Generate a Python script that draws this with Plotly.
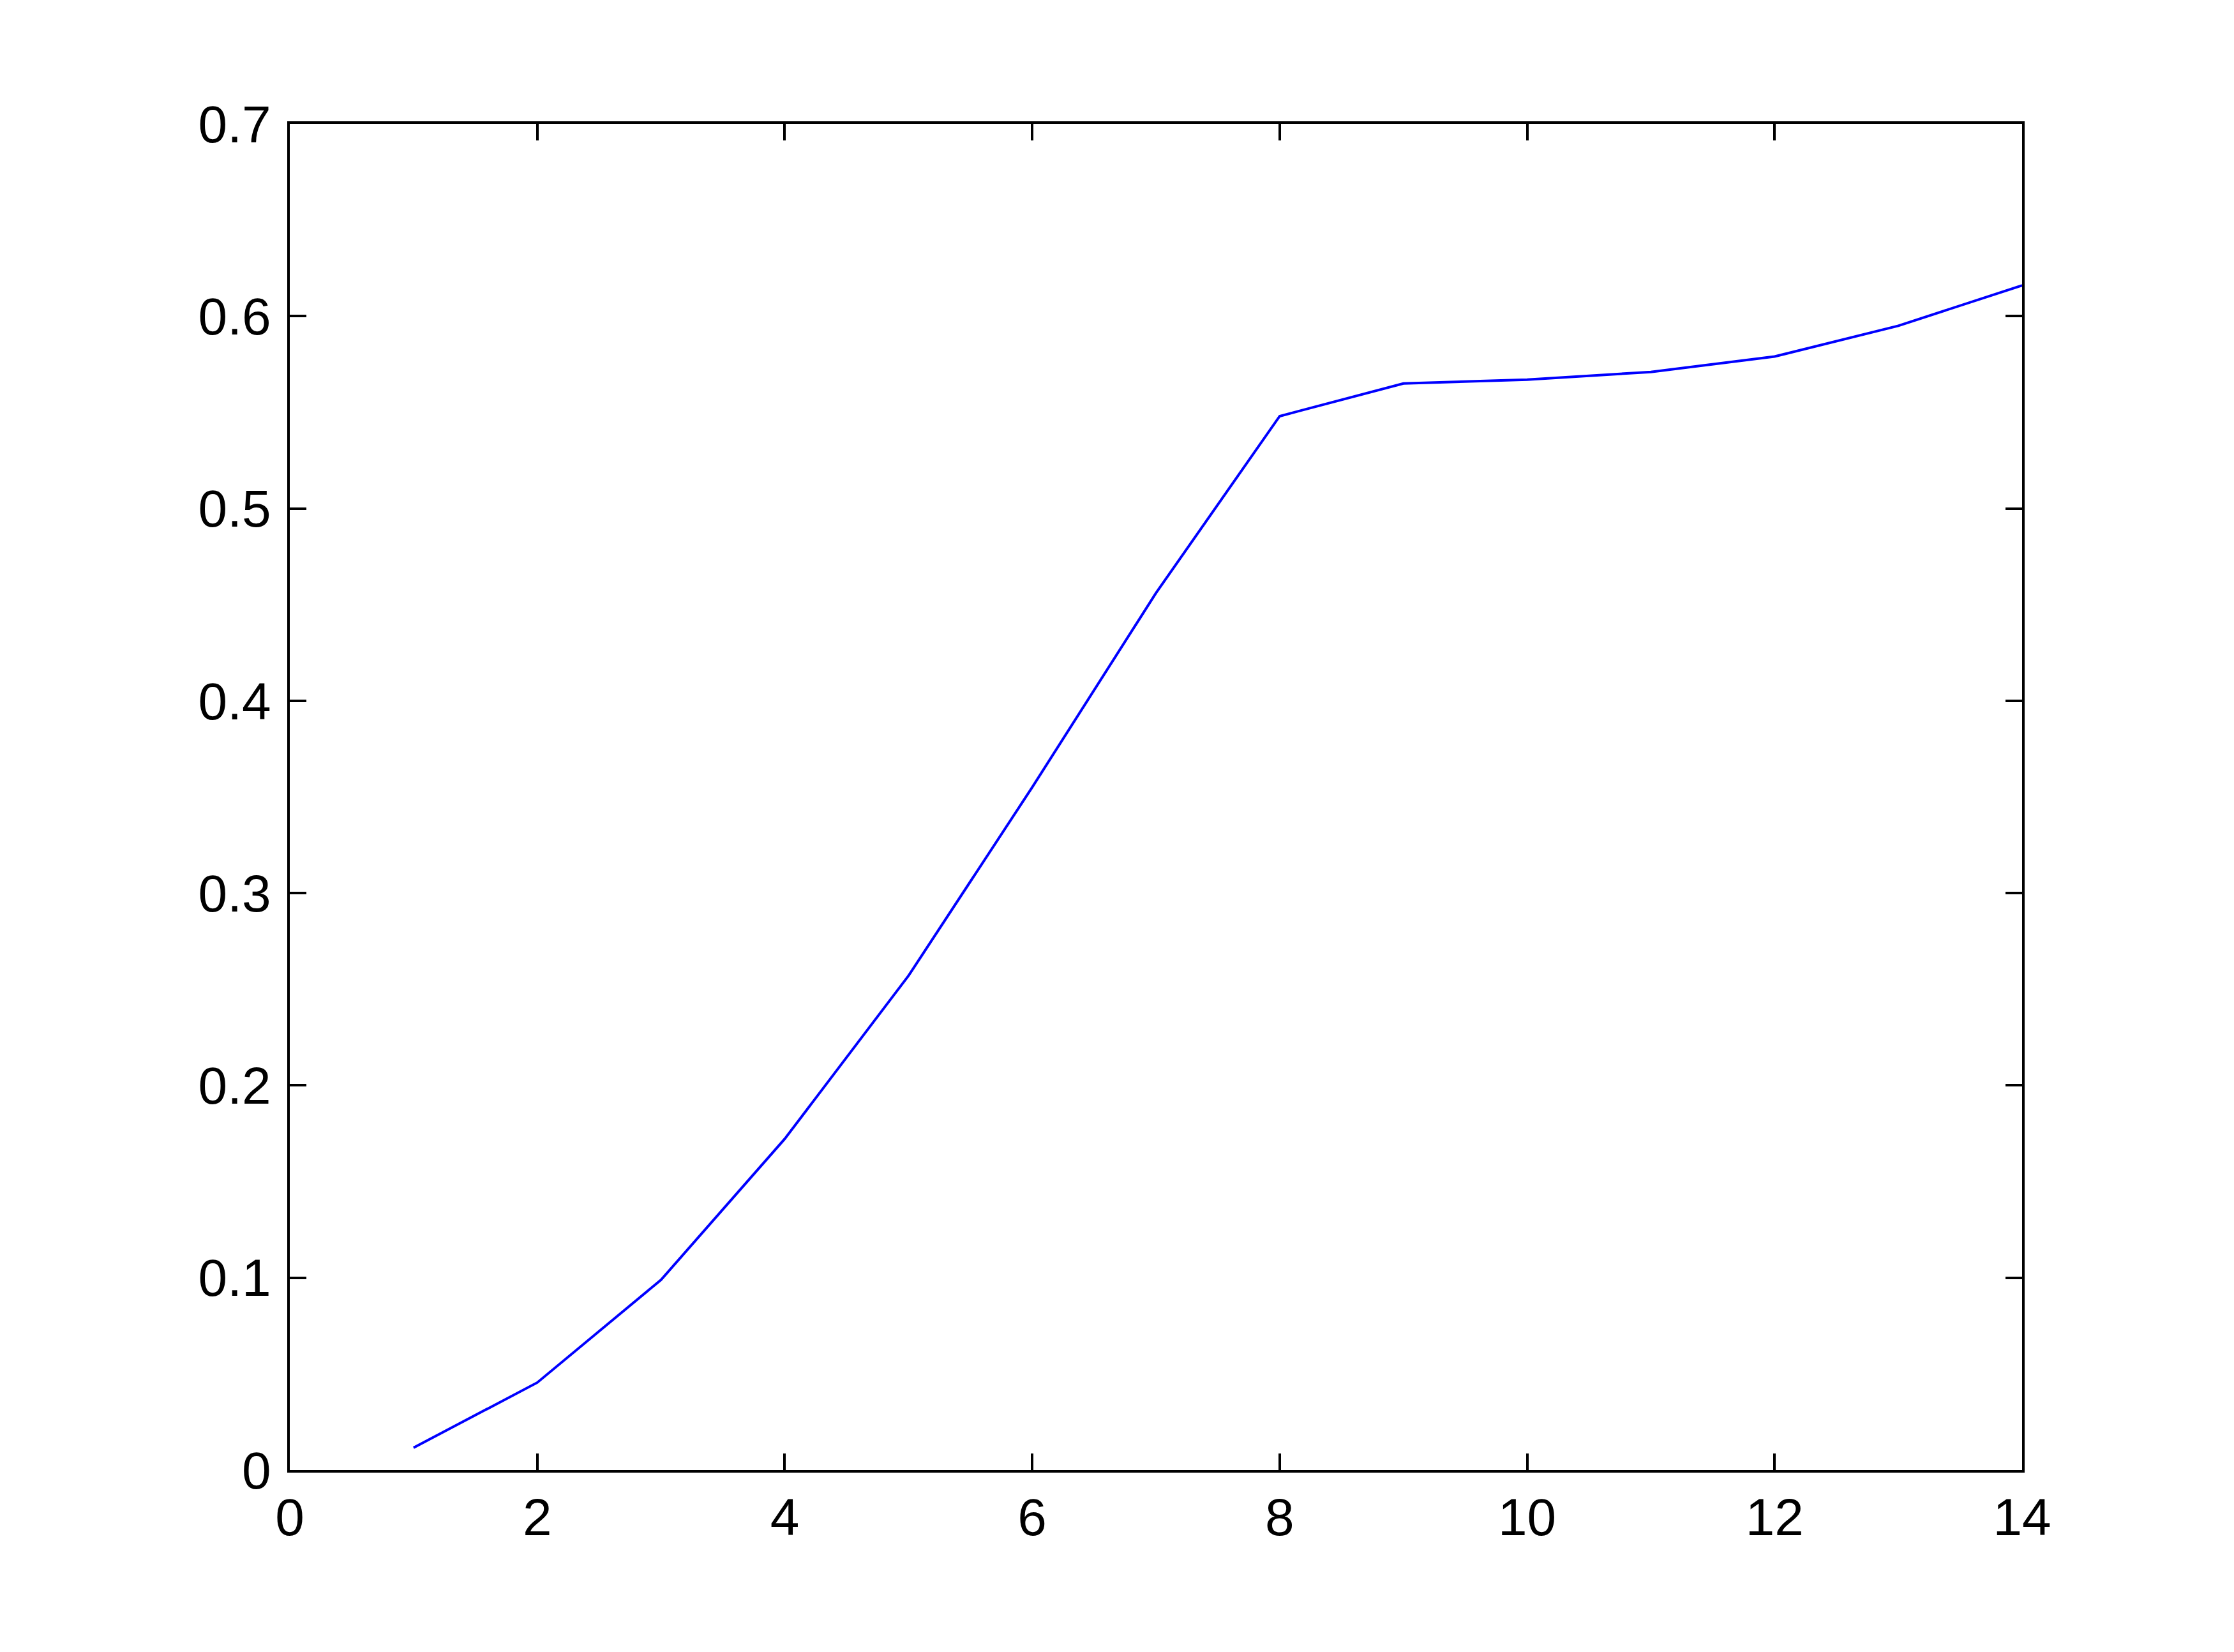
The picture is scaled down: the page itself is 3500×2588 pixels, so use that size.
import plotly.graph_objects as go

x_vals = [1, 2, 3, 4, 5, 6, 7, 8, 9, 10, 11, 12, 13, 14]
y_vals = [0.0116, 0.0455, 0.0989, 0.1722, 0.257, 0.355, 0.456,
          0.548, 0.565, 0.567, 0.571, 0.579, 0.595, 0.616]

x_ticks = [0, 2, 4, 6, 8, 10, 12, 14]
y_ticks = [0, 0.1, 0.2, 0.3, 0.4, 0.5, 0.6, 0.7]
y_labels = ["0", "0.1", "0.2", "0.3", "0.4", "0.5", "0.6", "0.7"]

fig = go.Figure()
fig.add_trace(go.Scatter(x=x_vals, y=y_vals, mode="lines",
                         line=dict(color="#0000FF", width=4)))

axis_style = dict(
    showline=True, linecolor="black", linewidth=4, mirror="ticks",
    ticks="inside", ticklen=26, tickwidth=3.5, tickcolor="black",
    showgrid=False, zeroline=False,
    tickfont=dict(family="Liberation Sans, Arial", size=82, color="black"),
)

fig.update_xaxes(range=[0, 14], tickvals=x_ticks, **axis_style)
fig.update_yaxes(range=[0, 0.7], tickvals=y_ticks, ticktext=y_labels,
                 ticklabelstandoff=9, **axis_style)

# page body adds an 8px offset, so the figure is a bit smaller
fig.update_layout(
    width=3484, height=2572,
    margin=dict(l=446, r=324, t=186, b=277),
    plot_bgcolor="white", paper_bgcolor="white",
    showlegend=False,
)

fig.write_html("out.html")
